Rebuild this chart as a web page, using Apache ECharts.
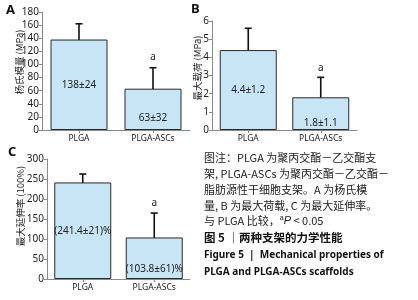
<!DOCTYPE html>
<html><head><meta charset="utf-8">
<script src="https://cdn.jsdelivr.net/npm/echarts@6/dist/echarts.min.js"></script>
<style>html,body{margin:0;padding:0;background:#fff}#c{width:418px;height:300px}</style>
</head><body><div id="c"></div>
<script>
const categories = ['PLGA', 'PLGA-ASCs'];
const sigMarks = ['', 'a'];
// A: Young's modulus (MPa)
const youngMean = [138, 63];
const youngErr = [24, 32];
const youngLabels = ['138±24', '63±32'];
// B: max load (MPa)
const loadMean = [4.4, 1.8];
const loadErr = [1.2, 1.1];
const loadLabels = ['4.4±1.2', '1.8±1.1'];
// C: max elongation (%)
const elongMean = [241.4, 103.8];
const elongErr = [21, 61];
const elongLabels = ['(241.4±21)%', '(103.8±61)%'];

const captionLines = [
  '图注：PLGA 为聚丙交酯－乙交酯支',
  '架, PLGA-ASCs 为聚丙交酯－乙交酯－',
  '脂肪源性干细胞支架。A 为杨氏模',
  '量, B 为最大荷载, C 为最大延伸率。'
];

const chart = echarts.init(document.getElementById('c'), null, {renderer: 'canvas'});
const sans = '"Noto Sans", "Noto Sans CJK SC", sans-serif';
const cjk = '"Noto Sans CJK SC", "Noto Sans", sans-serif';

function xAx(i) {
  return {type: 'category', gridIndex: i, data: categories,
    axisLine: {lineStyle: {color: '#8a8a8a', width: 1}},
    axisTick: {show: true, alignWithLabel: true, length: 3, lineStyle: {color: '#8a8a8a'}},
    axisLabel: {fontSize: 8.5, color: '#222', margin: 4, fontFamily: sans}};
}
function yAx(i, max, interval) {
  return {type: 'value', gridIndex: i, min: 0, max: max, interval: interval,
    axisLine: {show: true, lineStyle: {color: '#8a8a8a', width: 1}},
    axisTick: {show: true, length: 3, lineStyle: {color: '#8a8a8a'}},
    splitLine: {show: false},
    axisLabel: {fontSize: 10, color: '#222', margin: 3, fontFamily: sans}};
}
function barSeries(i, means, labels, bottomDist) {
  return {type: 'bar', xAxisIndex: i, yAxisIndex: i, barWidth: 57,
    itemStyle: {color: '#c8e5f6', borderColor: '#2a2a2a', borderWidth: 1},
    data: means.map((v, k) => ({value: v,
      label: {show: true, position: k === 0 ? 'inside' : 'insideBottom', distance: bottomDist,
        formatter: labels[k], fontSize: 10, color: '#222', fontFamily: sans}})),
    silent: true, animation: false};
}
function errSeries(i, means, errs, gap) {
  return {type: 'custom', xAxisIndex: i, yAxisIndex: i, animation: false, silent: true,
    encode: {x: 0, y: [1, 2]},
    data: means.map((v, k) => [k, v - errs[k], v + errs[k]]),
    renderItem: function (params, api) {
      const x = api.value(0);
      const lo = api.coord([x, api.value(1)]);
      const hi = api.coord([x, api.value(2)]);
      const hw = 3.5;
      const st = {stroke: '#111', lineWidth: 1.6};
      const children = [
        {type: 'line', shape: {x1: lo[0], y1: lo[1], x2: hi[0], y2: hi[1]}, style: st},
        {type: 'line', shape: {x1: hi[0] - hw, y1: hi[1], x2: hi[0] + hw, y2: hi[1]}, style: st},
        {type: 'line', shape: {x1: lo[0] - hw, y1: lo[1], x2: lo[0] + hw, y2: lo[1]}, style: st}
      ];
      const s = sigMarks[params.dataIndex];
      if (s) children.push({type: 'text', style: {text: s, x: hi[0], y: hi[1] - gap,
        align: 'center', verticalAlign: 'middle', fontSize: 10, fill: '#222', fontFamily: sans}});
      return {type: 'group', children: children};
    }};
}

const graphics = [
  {type: 'text', left: 6, top: 4, style: {text: 'A', font: 'bold 13px ' + sans, fill: '#111'}},
  {type: 'text', left: 191, top: 3, style: {text: 'B', font: 'bold 13px ' + sans, fill: '#111'}},
  {type: 'text', left: 8, top: 146, style: {text: 'C', font: 'bold 13px ' + sans, fill: '#111'}},
  {type: 'text', x: 19, y: 62, rotation: Math.PI / 2, style: {text: '杨氏模量 (MPa)', fontSize: 9.5, fontFamily: cjk, fill: '#222', align: 'center', verticalAlign: 'middle'}},
  {type: 'text', x: 197, y: 68, rotation: Math.PI / 2, style: {text: '最大载荷 (MPa)', fontSize: 9.5, fontFamily: cjk, fill: '#222', align: 'center', verticalAlign: 'middle'}},
  {type: 'text', x: 20, y: 206, rotation: Math.PI / 2, style: {text: '最大延伸率 (100%)', fontSize: 9.5, fontFamily: cjk, fill: '#222', align: 'center', verticalAlign: 'middle'}}
];
const capY = [158, 174, 190, 206];
captionLines.forEach((t, k) => graphics.push({type: 'text', x: 204, y: capY[k],
  style: {text: t, fontSize: 11, fontFamily: cjk, fill: '#222', verticalAlign: 'middle'}}));
graphics.push({type: 'text', x: 204, y: 221, style: {
  text: '与 PLGA 比较，{sup|a}{i|P} < 0.05', fontSize: 11, fontFamily: cjk, fill: '#222', verticalAlign: 'middle',
  rich: {sup: {fontSize: 7, verticalAlign: 'top', fill: '#222', padding: [0, 0, 6, 0]}, i: {fontSize: 11, fontStyle: 'italic', fill: '#222'}}}});
graphics.push({type: 'text', x: 204, y: 238, style: {text: '图 5 ｜两种支架的力学性能', fontSize: 11.5, fontWeight: 'bold', fontFamily: cjk, fill: '#111', verticalAlign: 'middle'}});
graphics.push({type: 'text', x: 204, y: 255, style: {text: 'Figure 5  |  Mechanical properties of', fontSize: 10, fontWeight: 'bold', fontFamily: sans, fill: '#111', verticalAlign: 'middle'}});
graphics.push({type: 'text', x: 204, y: 272, style: {text: 'PLGA and PLGA-ASCs scaffolds', fontSize: 10, fontWeight: 'bold', fontFamily: sans, fill: '#111', verticalAlign: 'middle'}});

chart.setOption({
  animation: false,
  grid: [
    {left: 42, top: 12, width: 148, height: 118},
    {left: 212, top: 21, width: 145, height: 109},
    {left: 47, top: 159, width: 143, height: 120}
  ],
  xAxis: [xAx(0), xAx(1), xAx(2)],
  yAxis: [yAx(0, 180, 20), yAx(1, 6, 1), yAx(2, 300, 50)],
  series: [
    barSeries(0, youngMean, youngLabels, 7),
    barSeries(1, loadMean, loadLabels, 2),
    barSeries(2, elongMean, elongLabels, 5),
    errSeries(0, youngMean, youngErr, 11),
    errSeries(1, loadMean, loadErr, 9),
    errSeries(2, elongMean, elongErr, 10)
  ],
  graphic: graphics
});
</script></body></html>
